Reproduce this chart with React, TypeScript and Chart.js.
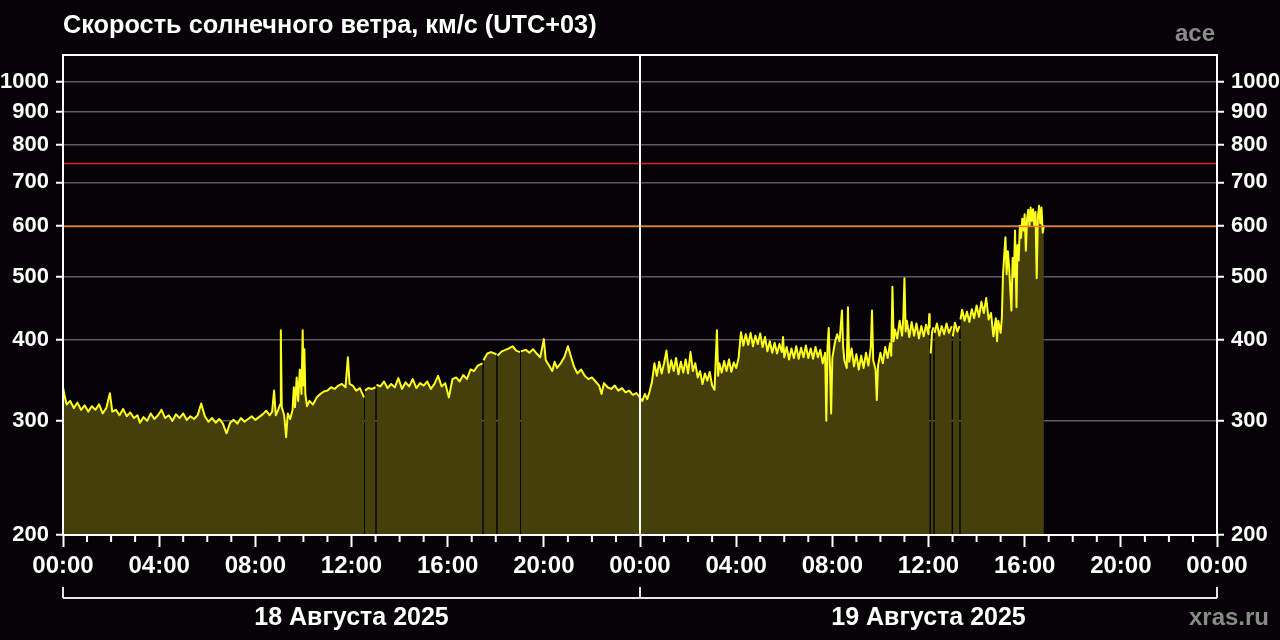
import { useEffect, useRef } from 'react';
import { Chart, registerables } from 'chart.js';

Chart.register(...registerables);

const FONT = "'Liberation Sans', Arial, Helvetica, sans-serif";
const TITLE = 'Скорость солнечного ветра, км/с (UTC+03)';
const SOURCE = 'ace';
const SITE = 'xras.ru';
const dayLabels = ['18 Августа 2025', '19 Августа 2025'];
const dayCenters = [12, 36];
const dayBounds = [0, 24, 48];
const xTickLabels = ['00:00', '04:00', '08:00', '12:00', '16:00', '20:00', '00:00', '04:00', '08:00', '12:00', '16:00', '20:00', '00:00'];
const hourTicks = Array.from({ length: 49 }, (_, i) => i);
const yTicks = [200, 300, 400, 500, 600, 700, 800, 900, 1000];
const Y_MIN = 200;
const Y_MAX = 1100;
const thresholdOrange = 600;
const thresholdRed = 750;
const midnight = 24;

// 18 Aug: hours since 00:00 (UTC+03)
const day1Hours = [
  0.0, 0.05, 0.15, 0.3, 0.45, 0.6, 0.75, 0.9, 1.05, 1.2,
  1.35, 1.5, 1.65, 1.8, 1.95, 2.05, 2.2, 2.35, 2.5, 2.65,
  2.8, 2.95, 3.1, 3.2, 3.35, 3.5, 3.65, 3.8, 3.95, 4.1,
  4.25, 4.4, 4.55, 4.7, 4.85, 5.0, 5.15, 5.3, 5.45, 5.6,
  5.75, 5.9, 6.05, 6.2, 6.35, 6.5, 6.65, 6.8, 6.95, 7.1,
  7.25, 7.4, 7.55, 7.7, 7.85, 8.0, 8.15, 8.3, 8.45, 8.6,
  8.7, 8.78, 8.85, 8.95, 9.03, 9.06, 9.1, 9.2, 9.28, 9.35,
  9.45, 9.55, 9.6, 9.65, 9.72, 9.78, 9.85, 9.92, 9.97, 10.0,
  10.04, 10.08, 10.15, 10.25, 10.4, 10.55, 10.7, 10.85, 11.0, 11.15,
  11.3, 11.45, 11.6, 11.75, 11.85, 11.92, 12.05, 12.2, 12.35, 12.52,
  12.54, 12.56, 12.7, 12.85, 13.0, 13.02, 13.04, 13.2, 13.35, 13.5,
  13.65, 13.8, 13.95, 14.1, 14.25, 14.4, 14.55, 14.7, 14.85, 15.0,
  15.15, 15.3, 15.45, 15.6, 15.75, 15.9, 16.05, 16.2, 16.35, 16.5,
  16.65, 16.8, 16.95, 17.1, 17.25, 17.45, 17.47, 17.49, 17.65, 17.8,
  18.03, 18.05, 18.07, 18.25, 18.4, 18.55, 18.7, 18.85, 19.01, 19.03,
  19.05, 19.25, 19.4, 19.55, 19.7, 19.85, 20.0, 20.08, 20.2, 20.35,
  20.45, 20.55, 20.7, 20.85, 21.0, 21.1, 21.25, 21.4, 21.55, 21.7,
  21.85, 22.0, 22.15, 22.3, 22.4, 22.5, 22.65, 22.8, 22.95, 23.1,
  23.25, 23.4, 23.55, 23.7, 23.85, 24.0,
];

// 18 Aug: solar wind speed, km/s (null = data gap)
const day1Speeds = [
  338, 330, 318, 322, 314, 320, 312, 317, 310, 316,
  312, 318, 308, 314, 331, 310, 312, 306, 313, 305,
  309, 303, 306, 298, 304, 300, 308, 302, 306, 312,
  303, 306, 300, 307, 303, 308, 301, 305, 302, 306,
  319, 305, 299, 303, 298, 302, 297, 287, 298, 301,
  297, 303, 299, 302, 305, 301, 304, 307, 311, 306,
  310, 334, 306, 312, 318, 414, 315, 306, 283, 308,
  302, 312, 338, 315, 350, 322, 360, 330, 414, 340,
  387, 330, 316, 322, 318, 326, 330, 333, 334, 338,
  336, 340, 342, 338, 376, 342, 340, 334, 337, 326,
  null, 334, 337, 336, 338, null, 341, 339, 345, 337,
  342, 338, 349, 336, 344, 339, 348, 337, 343, 340,
  345, 336, 342, 352, 339, 343, 326, 348, 350, 345,
  353, 348, 360, 358, 365, 368, null, 372, 381, 383,
  380, null, 378, 384, 386, 388, 391, 385, 383, null,
  384, 386, 382, 387, 381, 376, 401, 372, 366, 358,
  370, 362, 368, 376, 391, 380, 364, 355, 360, 352,
  348, 350, 345, 340, 330, 343, 338, 336, 340, 334,
  337, 332, 334, 329, 331, 326,
];

// 19 Aug: hours since 18 Aug 00:00 (UTC+03)
const day2Hours = [
  24.05, 24.1, 24.2, 24.3, 24.4, 24.5, 24.6, 24.7, 24.8, 24.9,
  25.0, 25.1, 25.2, 25.3, 25.4, 25.5, 25.6, 25.7, 25.8, 25.9,
  26.0, 26.1, 26.2, 26.3, 26.4, 26.5, 26.6, 26.7, 26.8, 26.9,
  27.0, 27.1, 27.2, 27.25, 27.3, 27.4, 27.5, 27.6, 27.7, 27.8,
  27.9, 28.0, 28.1, 28.2, 28.3, 28.4, 28.5, 28.6, 28.7, 28.8,
  28.9, 29.0, 29.1, 29.2, 29.3, 29.4, 29.5, 29.6, 29.7, 29.8,
  29.9, 29.95, 30.0, 30.1, 30.2, 30.3, 30.4, 30.5, 30.6, 30.7,
  30.8, 30.9, 31.0, 31.1, 31.2, 31.3, 31.4, 31.5, 31.6, 31.7,
  31.75, 31.8, 31.85, 31.9, 31.95, 32.0, 32.1, 32.2, 32.3, 32.4,
  32.45, 32.5, 32.6, 32.65, 32.7, 32.8, 32.9, 33.0, 33.1, 33.2,
  33.3, 33.4, 33.5, 33.6, 33.65, 33.7, 33.8, 33.85, 33.9, 34.0,
  34.1, 34.2, 34.3, 34.4, 34.45, 34.5, 34.55, 34.6, 34.7, 34.8,
  34.9, 34.95, 35.0, 35.05, 35.1, 35.2, 35.3, 35.4, 35.5, 35.6,
  35.7, 35.8, 35.9, 36.0, 36.03, 36.05, 36.07, 36.09, 36.15, 36.21,
  36.23, 36.25, 36.35, 36.45, 36.55, 36.65, 36.75, 36.85, 36.97, 36.99,
  37.01, 37.1, 37.2, 37.29, 37.31, 37.33, 37.4, 37.5, 37.6, 37.7,
  37.8, 37.9, 38.0, 38.1, 38.2, 38.3, 38.4, 38.5, 38.6, 38.7,
  38.8, 38.85, 38.9, 39.0, 39.05, 39.1, 39.15, 39.2, 39.25, 39.3,
  39.35, 39.45, 39.5, 39.55, 39.6, 39.66, 39.7, 39.75, 39.8, 39.85,
  39.9, 39.95, 40.0, 40.05, 40.1, 40.15, 40.2, 40.25, 40.3, 40.35,
  40.4, 40.45, 40.5, 40.55, 40.6, 40.65, 40.7, 40.75, 40.8,
];

// 19 Aug: solar wind speed, km/s (null = data gap)
const day2Speeds = [
  323, 322, 330, 324, 333, 345, 368, 352, 370, 355,
  368, 385, 356, 372, 358, 375, 354, 370, 356, 373,
  355, 383, 358, 368, 350, 358, 342, 355, 346, 357,
  340, 335, 414, 352, 368, 356, 371, 358, 373, 357,
  369, 362, 375, 411, 392, 408, 393, 410, 391, 406,
  394, 409, 390, 404, 384, 398, 382, 396, 381, 394,
  383, 404, 376, 390, 373, 388, 375, 391, 374, 389,
  376, 392, 375, 388, 374, 390, 376, 386, 368, 382,
  300, 390, 417, 366, 308, 375, 395, 408, 398, 444,
  390, 372, 362, 449, 370, 388, 364, 380, 360, 378,
  362, 382, 365, 390, 444, 372, 360, 323, 365, 382,
  368, 390, 375, 395, 378, 483, 398, 415, 402, 428,
  406, 430, 498, 412, 428, 404, 426, 406, 424, 402,
  420, 405, 422, 408, 438, 418, null, 381, 412, 418,
  null, 410, 424, 406, 420, 408, 424, 410, 420, null,
  405, 425, 412, 420, null, 430, 445, 428, 442, 426,
  446, 432, 452, 434, 458, 440, 464, 430, 440, 405,
  432, 398, 428, 410, 432, 506, 540, 576, 505, 548,
  520, 444, 535, 500, 590, 449, 560, 530, 600, 575,
  615, 590, 625, 549, 615, 635, 600, 640, 610, 636,
  600, 630, 498, 620, 644, 605, 640, 585, 600,
];

const tickFontY = { family: FONT, size: 22, weight: 'bold' as const };
const tickFontX = { family: FONT, size: 24, weight: 'bold' as const };

export default function App() {
  const ref = useRef<HTMLCanvasElement | null>(null);

  useEffect(() => {
    if (!ref.current) return;
    const hours = [...day1Hours, ...day2Hours];
    const speeds = [...day1Speeds, ...day2Speeds];
    const points = hours.map((h, i) => ({ x: h, y: speeds[i] }));

    const overlay = {
      id: 'overlay',
      beforeDraw(chart: any) {
        const ctx = chart.ctx;
        ctx.save();
        ctx.fillStyle = '#050305';
        ctx.fillRect(0, 0, chart.width, chart.height);
        ctx.restore();
      },
      afterDatasetsDraw(chart: any) {
        const ctx = chart.ctx;
        const a = chart.chartArea;
        const xs = chart.scales.x;
        const ys = chart.scales.y;
        ctx.save();
        ctx.lineWidth = 1.5;
        ctx.strokeStyle = '#f07a22';
        const yo = Math.round(ys.getPixelForValue(thresholdOrange)) + 0.5;
        ctx.beginPath(); ctx.moveTo(a.left, yo); ctx.lineTo(a.right, yo); ctx.stroke();
        ctx.strokeStyle = '#e0231e';
        const yr = Math.round(ys.getPixelForValue(thresholdRed)) + 0.5;
        ctx.beginPath(); ctx.moveTo(a.left, yr); ctx.lineTo(a.right, yr); ctx.stroke();
        ctx.strokeStyle = '#ffffff';
        ctx.lineWidth = 2;
        const xm = xs.getPixelForValue(midnight);
        ctx.beginPath(); ctx.moveTo(xm, a.top); ctx.lineTo(xm, a.bottom); ctx.stroke();
        ctx.strokeRect(a.left, a.top, a.right - a.left, a.bottom - a.top);
        ctx.restore();
      },
      afterDraw(chart: any) {
        const ctx = chart.ctx;
        const a = chart.chartArea;
        const xs = chart.scales.x;
        ctx.save();
        ctx.strokeStyle = '#ffffff';
        ctx.lineWidth = 2;
        hourTicks.forEach((h) => {
          if (h % 4 === 0) return;
          const x = xs.getPixelForValue(h);
          ctx.beginPath(); ctx.moveTo(x, a.bottom); ctx.lineTo(x, a.bottom + 7); ctx.stroke();
        });
        ctx.strokeStyle = '#e6e6e6';
        const by = a.bottom + 63;
        ctx.beginPath();
        ctx.moveTo(xs.getPixelForValue(dayBounds[0]), by);
        ctx.lineTo(xs.getPixelForValue(dayBounds[dayBounds.length - 1]), by);
        ctx.stroke();
        dayBounds.forEach((d) => {
          const x = xs.getPixelForValue(d);
          ctx.beginPath(); ctx.moveTo(x, by - 11); ctx.lineTo(x, by); ctx.stroke();
        });
        ctx.fillStyle = '#ffffff';
        ctx.font = `bold 25px ${FONT}`;
        ctx.textAlign = 'center';
        ctx.textBaseline = 'alphabetic';
        dayLabels.forEach((t, i) => {
          ctx.fillText(t, xs.getPixelForValue(dayCenters[i]), 625);
        });
        ctx.textAlign = 'left';
        ctx.font = `bold 25.3px ${FONT}`;
        ctx.fillText(TITLE, 63, 33);
        ctx.fillStyle = '#8a8a8a';
        ctx.font = `bold 24px ${FONT}`;
        ctx.textAlign = 'right';
        ctx.fillText(SOURCE, 1215, 41);
        ctx.fillText(SITE, 1269, 625);
        ctx.restore();
      },
    };

    const yAxisBase = (position: 'left' | 'right', onArea: boolean) => ({
      type: 'logarithmic' as const,
      position,
      min: Y_MIN,
      max: Y_MAX,
      afterBuildTicks: (s: any) => { s.ticks = yTicks.map((v) => ({ value: v })); },
      afterFit: (s: any) => { s.width = 63; },
      ticks: {
        color: '#ffffff',
        font: tickFontY,
        padding: 7,
        callback: (v: any) => String(v),
      },
      grid: {
        drawOnChartArea: onArea,
        color: (c: any) => (c.tick && c.tick.value === Y_MIN ? 'rgba(0,0,0,0)' : '#5c5c5c'),
        lineWidth: 1.5,
        tickLength: 7,
        tickColor: '#ffffff',
        tickWidth: 2,
      },
      border: { display: false },
    });

    const chart = new Chart(ref.current, {
      type: 'line',
      data: {
        datasets: [
          {
            data: points as any,
            borderColor: '#ffff1e',
            borderWidth: 2,
            backgroundColor: '#453f0b',
            fill: 'start',
            pointRadius: 0,
            tension: 0,
            spanGaps: false,
            borderJoinStyle: 'round',
            xAxisID: 'x',
            yAxisID: 'y',
          } as any,
        ],
      },
      options: {
        responsive: false,
        animation: false,
        layout: { padding: { top: 55, left: 0, right: 0, bottom: 0 } },
        plugins: { legend: { display: false }, tooltip: { enabled: false }, title: { display: false } },
        scales: {
          x: {
            type: 'linear',
            position: 'bottom',
            min: 0,
            max: 48,
            afterBuildTicks: (s: any) => { s.ticks = hourTicks.map((v) => ({ value: v })); },
            afterFit: (s: any) => { s.height = 105; },
            ticks: {
              autoSkip: false,
              maxRotation: 0,
              color: '#ffffff',
              font: tickFontX,
              padding: 5,
              callback: (v: any) => (v % 4 === 0 ? xTickLabels[v / 4] : ''),
            },
            grid: {
              drawOnChartArea: false,
              drawTicks: true,
              tickLength: 12,
              tickWidth: 2,
              tickColor: (c: any) => (c.tick && c.tick.value % 4 === 0 ? '#ffffff' : 'rgba(0,0,0,0)'),
            },
            border: { display: false },
          },
          y: yAxisBase('left', true) as any,
          y2: yAxisBase('right', false) as any,
        },
      },
      plugins: [overlay],
    });
    return () => chart.destroy();
  }, []);

  return (
    <div style={{ position: 'absolute', left: 0, top: 0, width: 1280, height: 640, background: '#050305' }}>
      <canvas ref={ref} width={1280} height={640} style={{ display: 'block', width: 1280, height: 640 }} />
    </div>
  );
}
